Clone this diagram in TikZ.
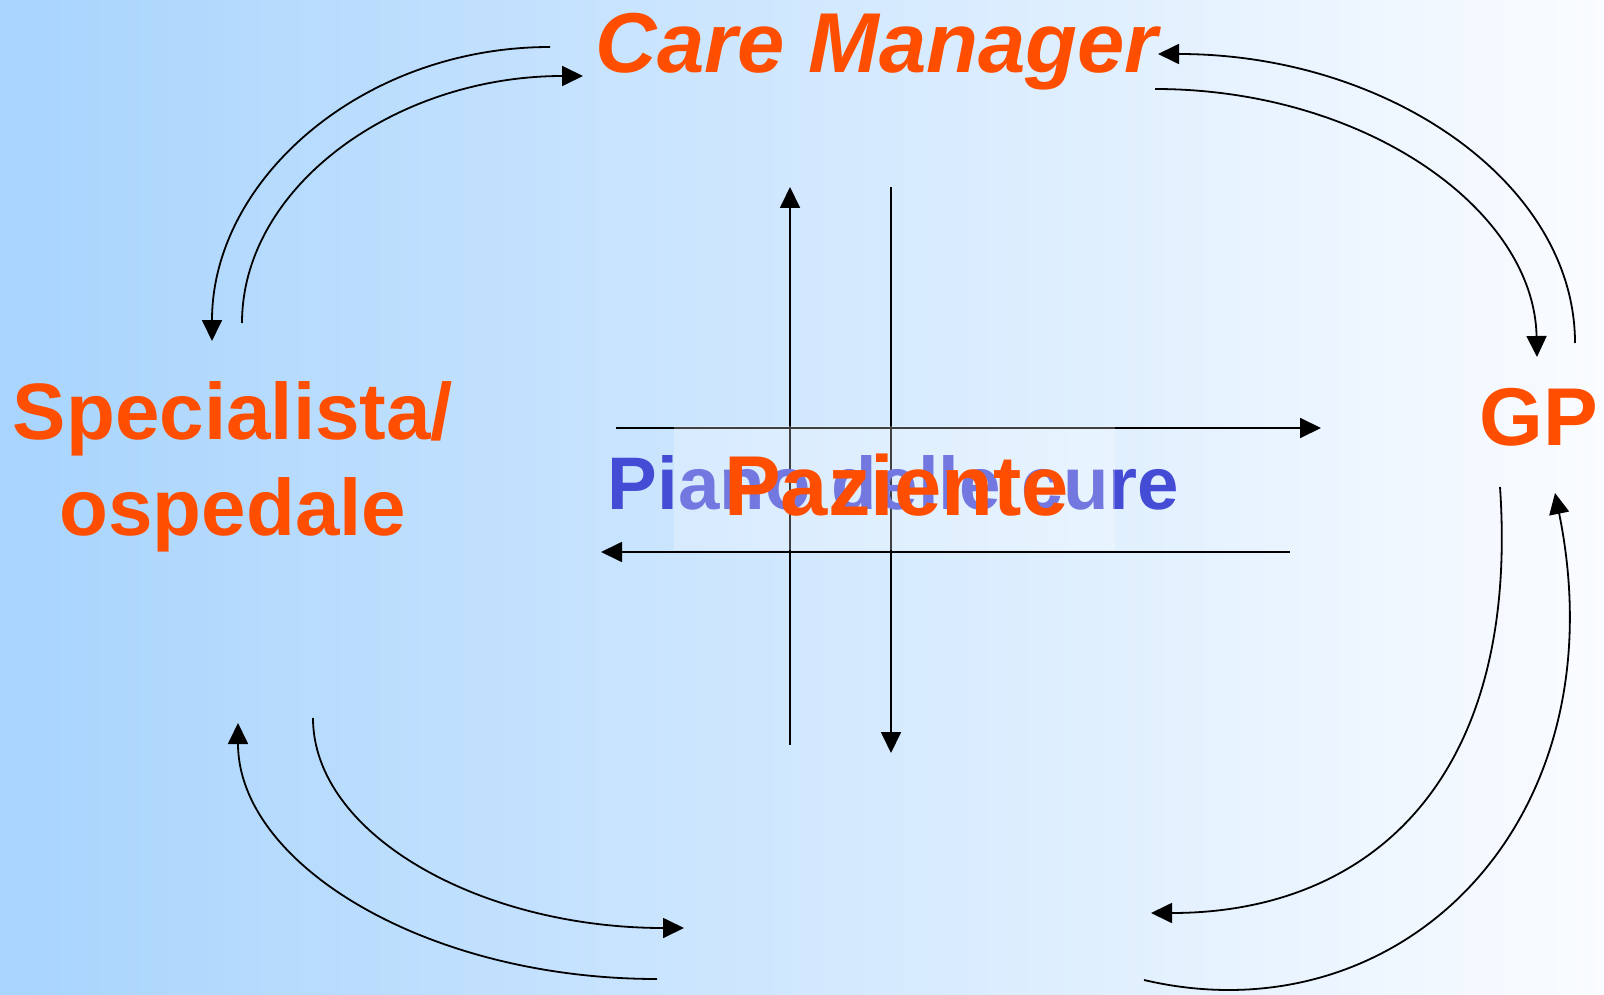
\documentclass[tikz,border=0pt]{standalone}
\usepackage{fontspec}
\setmainfont{Liberation Sans}
\usetikzlibrary{arrows.meta}

\definecolor{bgleft}{RGB}{168,212,253}
\definecolor{bgright}{RGB}{250,252,255}
\definecolor{actorred}{RGB}{255,78,0}
\definecolor{planblue}{RGB}{68,76,214}

\tikzset{
  actor/.style={text=actorred, inner sep=0pt},
  flow/.style={line width=1.8pt, -{Triangle[length=21pt,width=20pt]}},
}

\begin{document}
\begin{tikzpicture}[x=1pt, y=-1pt]
  % background
  \shade[left color=bgleft, right color=bgright] (0,0) rectangle (1604,995);
  \useasboundingbox (0,0) rectangle (1604,995);

  % actors
  \node[actor, anchor=base, font=\bfseries\itshape\fontsize{85}{102}\selectfont] (cm) at (877,73) {Care Manager};
  \node[actor, anchor=base, align=center, font=\bfseries\fontsize{80}{96}\selectfont] (sp) at (233,535) {Specialista/\\ospedale};
  \node[actor, anchor=base, font=\bfseries\fontsize{82}{98}\selectfont] (gp) at (1539,445) {GP};

  % end points of the exchange arcs
  \coordinate (cmL1) at (550,47);
  \coordinate (cmL2) at (583,76);
  \coordinate (cmR1) at (1158,54);
  \coordinate (cmR2) at (1155,89);
  \coordinate (spT1) at (212,341);
  \coordinate (spT2) at (242,323);
  \coordinate (spB1) at (313,718);
  \coordinate (spB2) at (238,723);
  \coordinate (gpT1) at (1575,343);
  \coordinate (gpT2) at (1537,357);
  \coordinate (gpB1) at (1500,487);
  \coordinate (gpB2) at (1555,493);
  \coordinate (pzL1) at (684,928);
  \coordinate (pzL2) at (657,979);
  \coordinate (pzR1) at (1151,913);
  \coordinate (pzR2) at (1144,980);

  % care manager <-> specialist
  \draw[flow] (cmL1) .. controls (363,47) and (212,179) .. (spT1);
  \draw[flow] (spT2) .. controls (242,187) and (395,76) .. (cmL2);
  % care manager <-> GP
  \draw[flow] (gpT1) .. controls (1575,183) and (1388,54) .. (cmR1);
  \draw[flow] (cmR2) .. controls (1364,89) and (1534,209) .. (gpT2);
  % GP <-> patient
  \draw[flow] (gpB1) .. controls (1520,780) and (1370,913) .. (pzR1);
  \draw[flow] (pzR2) .. controls (1400,1040) and (1622,823) .. (gpB2);
  % specialist <-> patient
  \draw[flow] (spB1) .. controls (313,834) and (479,928) .. (pzL1);
  \draw[flow] (pzL2) .. controls (426,979) and (238,864) .. (spB2);

  % central cross
  \coordinate (upS) at (790,745);
  \coordinate (upE) at (790,187);
  \coordinate (dnS) at (891,187);
  \coordinate (dnE) at (891,753);
  \coordinate (rtS) at (616,428);
  \coordinate (rtE) at (1321,428);
  \coordinate (ltS) at (1290,552);
  \coordinate (ltE) at (601,552);
  \draw[flow] (upS) -- (upE);
  \draw[flow] (dnS) -- (dnE);
  \draw[flow] (rtS) -- (rtE);
  \draw[flow] (ltS) -- (ltE);

  % care plan and patient
  \node[anchor=base, inner sep=0pt, text=planblue, font=\bfseries\fontsize{74.5}{89}\selectfont] (plan) at (893.5,509) {Piano delle cure};
  \node[fill=white, fill opacity=0.25, minimum width=441pt, minimum height=124pt, inner sep=0pt] (pzbox) at (894.5,488) {};
  \node[actor, anchor=base, font=\bfseries\fontsize{85}{102}\selectfont] (pz) at (896.5,515) {Paziente};
\end{tikzpicture}
\end{document}
